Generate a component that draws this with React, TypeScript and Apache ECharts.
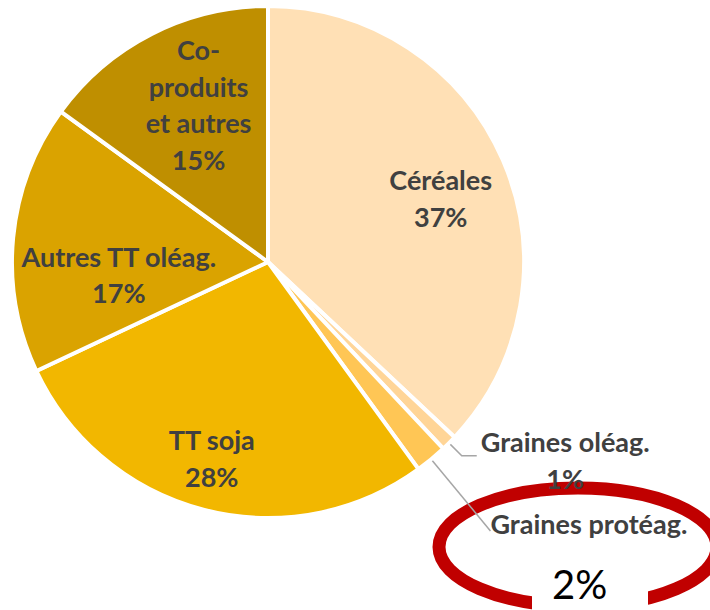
import React, { useEffect, useRef } from 'react';
import * as echarts from 'echarts';

// ---- data ----
const categories = ['Céréales', 'Graines oléag.', 'Graines protéag.', 'TT soja', 'Autres TT oléag.', 'Co-produits et autres'];
const shares = [37, 1, 2, 28, 17, 15];
const labelTexts = ['Céréales', 'Graines oléag.', 'Graines protéag.', 'TT soja', 'Autres TT oléag.', 'Co-\nproduits\net autres'];
const insideLabelIdx = [0, 3, 4, 5];
const highlightIdx = 2;

// ---- style / layout ----
const colors = ['#FFE0B5', '#FFD597', '#FFC655', '#F2B700', '#DAA300', '#BF8F00'];
const CX = 268, CY = 262, R = 254;
const FONT = 'Lato, "Open Sans", sans-serif';
const TEXT = '#404040';
const FS = 27;
const nudges: Record<number, [number, number]> = { 0: [2, 10], 3: [-10, 16], 4: [36, 30], 5: [15, 8] };

const baseData = (labelFor: (i: number) => any) =>
  categories.map((n, i) => ({ name: n, value: shares[i], ...labelFor(i) }));

const overlayCommon = {
  type: 'pie',
  left: 0, top: 0, width: 900, height: 900,
  center: [CX, CY],
  startAngle: 90,
  clockwise: true,
  silent: true,
  animation: false,
  emphasis: { disabled: true },
  itemStyle: { color: 'transparent', borderWidth: 0, borderColor: 'transparent' },
};

export default function App() {
  const ref = useRef<HTMLDivElement>(null);
  useEffect(() => {
    if (!ref.current) return;
    const chart = echarts.init(ref.current, undefined, { renderer: 'svg' });
    const option: any = {
      animation: false,
      backgroundColor: '#ffffff',
      series: [
        {
          type: 'pie',
          left: 0, top: 0, width: 710, height: 610,
          center: [CX, CY],
          radius: R + 2,
          startAngle: 90,
          clockwise: true,
          silent: true,
          emphasis: { disabled: true },
          label: { show: false },
          labelLine: { show: false },
          itemStyle: { borderColor: '#ffffff', borderWidth: 4 },
          data: baseData((i) => ({ itemStyle: { color: colors[i] } })),
        },
        {
          ...overlayCommon,
          radius: [112, R],
          label: {
            show: true,
            position: 'inside',
            color: TEXT,
            fontFamily: FONT,
            fontWeight: 'bold',
            fontSize: FS,
            lineHeight: 36.5,
            align: 'center',
            formatter: (p: any) => `${labelTexts[p.dataIndex]}\n${p.value}%`,
          },
          labelLine: { show: false },
          labelLayout: (p: any) => {
            const n = nudges[p.dataIndex];
            return n ? { dx: n[0], dy: n[1] } : {};
          },
          data: baseData((i) => ({ label: { show: insideLabelIdx.includes(i) } })),
        },
        {
          ...overlayCommon,
          radius: R,
          label: {
            show: true,
            position: 'outside',
            distanceToLabelLine: 4,
            padding: [8, 0, 0, 0],
            formatter: (p: any) => `{n|${labelTexts[p.dataIndex]}}\n{p|${p.value}%}`,
            rich: {
              n: { color: TEXT, fontFamily: FONT, fontWeight: 'bold', fontSize: FS, lineHeight: 37, align: 'center' },
              p: { color: TEXT, fontFamily: FONT, fontWeight: 'bold', fontSize: FS, lineHeight: 37, align: 'center' },
            },
          },
          labelLine: { show: true, length: 20, length2: 15, lineStyle: { color: '#A6A6A6', width: 1.5 } },
          data: baseData((i) => ({ label: { show: i === 1 }, labelLine: { show: i === 1 } })),
        },
        {
          ...overlayCommon,
          radius: R,
          label: {
            show: true,
            position: 'outside',
            distanceToLabelLine: 0,
            padding: [0, 0, 14, 0],
            formatter: (p: any) => `{n|${labelTexts[p.dataIndex]}}`,
            rich: {
              n: { color: TEXT, fontFamily: FONT, fontWeight: 'bold', fontSize: FS, lineHeight: 37 },
            },
          },
          labelLine: { show: true, length: 95, length2: 0, lineStyle: { color: '#A6A6A6', width: 1.5 } },
          data: baseData((i) => ({ label: { show: i === highlightIdx }, labelLine: { show: i === highlightIdx } })),
        },
      ],
      graphic: [
        {
          type: 'ellipse',
          z: 1,
          silent: true,
          shape: { cx: 578, cy: 547, rx: 139, ry: 59 },
          style: { fill: 'none', stroke: '#C00000', lineWidth: 13 },
        },
        {
          type: 'rect',
          z: 50,
          silent: true,
          shape: { x: 532, y: 580, width: 116, height: 30 },
          style: { fill: '#ffffff' },
        },
        {
          type: 'text',
          z: 100,
          silent: true,
          x: 552,
          y: 604,
          style: {
            text: `${shares[highlightIdx]}%`,
            font: `40px ${FONT}`,
            lineHeight: 40,
            fill: '#000000',
            align: 'left',
            verticalAlign: 'bottom',
          },
        },
      ],
    };
    chart.setOption(option);
    return () => chart.dispose();
  }, []);
  return <div ref={ref} style={{ position: 'absolute', left: 0, top: 0, width: 710, height: 610 }} />;
}
